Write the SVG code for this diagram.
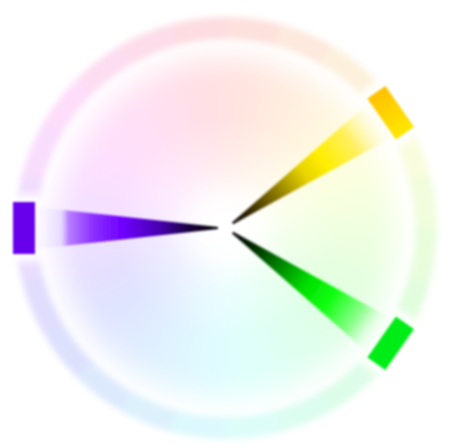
<svg xmlns="http://www.w3.org/2000/svg" width="452" height="446" viewBox="0 0 452 446">
<style>
.r{fill:none;stroke-width:22;stroke-dasharray:54 1250}
.d{fill:none;stroke-width:130;stroke-dasharray:29 700}
</style>
<defs>
<filter id="b2" filterUnits="userSpaceOnUse" x="-20" y="-18" width="492" height="492"><feGaussianBlur stdDeviation="3"/></filter>
<filter id="b14" filterUnits="userSpaceOnUse" x="-20" y="-18" width="492" height="492"><feGaussianBlur stdDeviation="14"/></filter>
<filter id="b1" x="-20%" y="-20%" width="140%" height="140%"><feGaussianBlur stdDeviation="1"/></filter>
<filter id="b4" x="-50%" y="-50%" width="200%" height="200%"><feGaussianBlur stdDeviation="4"/></filter>
<radialGradient id="cw" cx="226" cy="228" r="110" gradientUnits="userSpaceOnUse">
<stop offset="0" stop-color="#fff" stop-opacity="0.85"/>
<stop offset="1" stop-color="#fff" stop-opacity="0"/>
</radialGradient>
<linearGradient id="gp" x1="0" y1="0" x2="190" y2="0" gradientUnits="userSpaceOnUse">
<stop offset="0.05" stop-color="#000"/>
<stop offset="0.2" stop-color="#1a0040"/>
<stop offset="0.35" stop-color="#4800b0"/>
<stop offset="0.55" stop-color="#7000ff"/>
<stop offset="0.7" stop-color="#8c30ff"/>
<stop offset="0.83" stop-color="#b880ff"/>
<stop offset="0.87" stop-color="#e0d0ff" stop-opacity="0.6"/>
<stop offset="1" stop-color="#f0ecff" stop-opacity="0.2"/>
</linearGradient>
<linearGradient id="gy" x1="0" y1="0" x2="190" y2="0" gradientUnits="userSpaceOnUse">
<stop offset="0.05" stop-color="#000"/>
<stop offset="0.17" stop-color="#403000"/>
<stop offset="0.32" stop-color="#8a7800"/>
<stop offset="0.5" stop-color="#e8d400"/>
<stop offset="0.62" stop-color="#ffee00"/>
<stop offset="0.8" stop-color="#fff060"/>
<stop offset="0.92" stop-color="#fff8c0" stop-opacity="0.5"/>
<stop offset="1" stop-color="#fffbe0" stop-opacity="0.1"/>
</linearGradient>
<linearGradient id="gg" x1="0" y1="0" x2="190" y2="0" gradientUnits="userSpaceOnUse">
<stop offset="0.05" stop-color="#000"/>
<stop offset="0.17" stop-color="#002800"/>
<stop offset="0.32" stop-color="#007800"/>
<stop offset="0.52" stop-color="#00e000"/>
<stop offset="0.66" stop-color="#10ff10"/>
<stop offset="0.84" stop-color="#90ff90"/>
<stop offset="0.93" stop-color="#d8ffd8" stop-opacity="0.5"/>
<stop offset="1" stop-color="#f0fff0" stop-opacity="0.1"/>
</linearGradient>
<linearGradient id="gyr" x1="0" y1="-26" x2="0" y2="26" gradientUnits="userSpaceOnUse">
<stop offset="0" stop-color="#ffc000"/>
<stop offset="1" stop-color="#ffe800"/>
</linearGradient>
<path id="wedge" d="M8,-1 L190,-21 L190,21 L8,1 Z"/>
</defs>
<rect width="452" height="446" fill="#fff"/>
<g id="interior" filter="url(#b14)" transform="rotate(-90 226 228)">
<circle class="d" cx="226" cy="228" r="105" stroke="hsl(7.5,100%,94%)" stroke-dashoffset="0"/>
<circle class="d" cx="226" cy="228" r="105" stroke="hsl(22.5,100%,94%)" stroke-dashoffset="-27.49"/>
<circle class="d" cx="226" cy="228" r="105" stroke="hsl(37.5,100%,94%)" stroke-dashoffset="-54.98"/>
<circle class="d" cx="226" cy="228" r="105" stroke="hsl(52.5,100%,94%)" stroke-dashoffset="-82.47"/>
<circle class="d" cx="226" cy="228" r="105" stroke="hsl(67.5,100%,94%)" stroke-dashoffset="-109.96"/>
<circle class="d" cx="226" cy="228" r="105" stroke="hsl(82.5,100%,94%)" stroke-dashoffset="-137.45"/>
<circle class="d" cx="226" cy="228" r="105" stroke="hsl(97.5,100%,94%)" stroke-dashoffset="-164.93"/>
<circle class="d" cx="226" cy="228" r="105" stroke="hsl(112.5,100%,94%)" stroke-dashoffset="-192.42"/>
<circle class="d" cx="226" cy="228" r="105" stroke="hsl(127.5,100%,94%)" stroke-dashoffset="-219.91"/>
<circle class="d" cx="226" cy="228" r="105" stroke="hsl(142.5,100%,94%)" stroke-dashoffset="-247.40"/>
<circle class="d" cx="226" cy="228" r="105" stroke="hsl(157.5,100%,94%)" stroke-dashoffset="-274.89"/>
<circle class="d" cx="226" cy="228" r="105" stroke="hsl(172.5,100%,94%)" stroke-dashoffset="-302.38"/>
<circle class="d" cx="226" cy="228" r="105" stroke="hsl(187.5,100%,94%)" stroke-dashoffset="-329.87"/>
<circle class="d" cx="226" cy="228" r="105" stroke="hsl(202.5,100%,94%)" stroke-dashoffset="-357.36"/>
<circle class="d" cx="226" cy="228" r="105" stroke="hsl(217.5,100%,94%)" stroke-dashoffset="-384.85"/>
<circle class="d" cx="226" cy="228" r="105" stroke="hsl(232.5,100%,94%)" stroke-dashoffset="-412.33"/>
<circle class="d" cx="226" cy="228" r="105" stroke="hsl(247.5,100%,94%)" stroke-dashoffset="-439.82"/>
<circle class="d" cx="226" cy="228" r="105" stroke="hsl(262.5,100%,94%)" stroke-dashoffset="-467.31"/>
<circle class="d" cx="226" cy="228" r="105" stroke="hsl(277.5,100%,94%)" stroke-dashoffset="-494.80"/>
<circle class="d" cx="226" cy="228" r="105" stroke="hsl(292.5,100%,94%)" stroke-dashoffset="-522.29"/>
<circle class="d" cx="226" cy="228" r="105" stroke="hsl(307.5,100%,94%)" stroke-dashoffset="-549.78"/>
<circle class="d" cx="226" cy="228" r="105" stroke="hsl(322.5,100%,94%)" stroke-dashoffset="-577.27"/>
<circle class="d" cx="226" cy="228" r="105" stroke="hsl(337.5,100%,94%)" stroke-dashoffset="-604.76"/>
<circle class="d" cx="226" cy="228" r="105" stroke="hsl(352.5,100%,94%)" stroke-dashoffset="-632.25"/>
</g>
<circle cx="226" cy="228" r="110" fill="url(#cw)"/>
<g id="ring" filter="url(#b2)" transform="rotate(-90 226 228)">
<circle class="r" cx="226" cy="228" r="200" stroke="hsl(7.5,90%,93%)" stroke-dashoffset="0"/>
<circle class="r" cx="226" cy="228" r="200" stroke="hsl(22.5,90%,93%)" stroke-dashoffset="-52.36"/>
<circle class="r" cx="226" cy="228" r="200" stroke="hsl(37.5,90%,93%)" stroke-dashoffset="-104.72"/>
<circle class="r" cx="226" cy="228" r="200" stroke="hsl(52.5,90%,93%)" stroke-dashoffset="-157.08"/>
<circle class="r" cx="226" cy="228" r="200" stroke="hsl(67.5,90%,93%)" stroke-dashoffset="-209.44"/>
<circle class="r" cx="226" cy="228" r="200" stroke="hsl(82.5,90%,93%)" stroke-dashoffset="-261.80"/>
<circle class="r" cx="226" cy="228" r="200" stroke="hsl(97.5,90%,93%)" stroke-dashoffset="-314.16"/>
<circle class="r" cx="226" cy="228" r="200" stroke="hsl(112.5,90%,93%)" stroke-dashoffset="-366.52"/>
<circle class="r" cx="226" cy="228" r="200" stroke="hsl(127.5,90%,93%)" stroke-dashoffset="-418.88"/>
<circle class="r" cx="226" cy="228" r="200" stroke="hsl(142.5,90%,93%)" stroke-dashoffset="-471.24"/>
<circle class="r" cx="226" cy="228" r="200" stroke="hsl(157.5,90%,93%)" stroke-dashoffset="-523.60"/>
<circle class="r" cx="226" cy="228" r="200" stroke="hsl(172.5,90%,93%)" stroke-dashoffset="-575.96"/>
<circle class="r" cx="226" cy="228" r="200" stroke="hsl(187.5,90%,93%)" stroke-dashoffset="-628.32"/>
<circle class="r" cx="226" cy="228" r="200" stroke="hsl(202.5,90%,93%)" stroke-dashoffset="-680.68"/>
<circle class="r" cx="226" cy="228" r="200" stroke="hsl(217.5,90%,93%)" stroke-dashoffset="-733.04"/>
<circle class="r" cx="226" cy="228" r="200" stroke="hsl(232.5,90%,93%)" stroke-dashoffset="-785.40"/>
<circle class="r" cx="226" cy="228" r="200" stroke="hsl(247.5,90%,93%)" stroke-dashoffset="-837.76"/>
<circle class="r" cx="226" cy="228" r="200" stroke="hsl(262.5,90%,93%)" stroke-dashoffset="-890.12"/>
<circle class="r" cx="226" cy="228" r="200" stroke="hsl(277.5,90%,93%)" stroke-dashoffset="-942.48"/>
<circle class="r" cx="226" cy="228" r="200" stroke="hsl(292.5,90%,93%)" stroke-dashoffset="-994.84"/>
<circle class="r" cx="226" cy="228" r="200" stroke="hsl(307.5,90%,93%)" stroke-dashoffset="-1047.20"/>
<circle class="r" cx="226" cy="228" r="200" stroke="hsl(322.5,90%,93%)" stroke-dashoffset="-1099.56"/>
<circle class="r" cx="226" cy="228" r="200" stroke="hsl(337.5,90%,93%)" stroke-dashoffset="-1151.92"/>
<circle class="r" cx="226" cy="228" r="200" stroke="hsl(352.5,90%,93%)" stroke-dashoffset="-1204.28"/>
</g>
<g id="yellow" transform="translate(226 228) rotate(-35)">
<rect x="184" y="-33" width="34" height="66" fill="#fff" filter="url(#b4)"/>
<use href="#wedge" fill="url(#gy)" filter="url(#b1)"/>
<rect x="190" y="-25" width="22" height="50" fill="url(#gyr)" filter="url(#b1)"/>
</g>
<g id="green" transform="translate(226 228) rotate(35)">
<rect x="184" y="-33" width="34" height="66" fill="#fff" filter="url(#b4)"/>
<use href="#wedge" fill="url(#gg)" filter="url(#b1)"/>
<rect x="190" y="-25" width="22" height="50" fill="#00ec14" filter="url(#b1)"/>
</g>
<g id="purple" transform="translate(226 228) rotate(180)">
<rect x="184" y="-33" width="34" height="66" fill="#fff" filter="url(#b4)"/>
<use href="#wedge" fill="url(#gp)" filter="url(#b1)"/>
<rect x="191" y="-26" width="22" height="52" fill="#6800ec" filter="url(#b1)"/>
</g>
<g id="connectors"/>
</svg>
